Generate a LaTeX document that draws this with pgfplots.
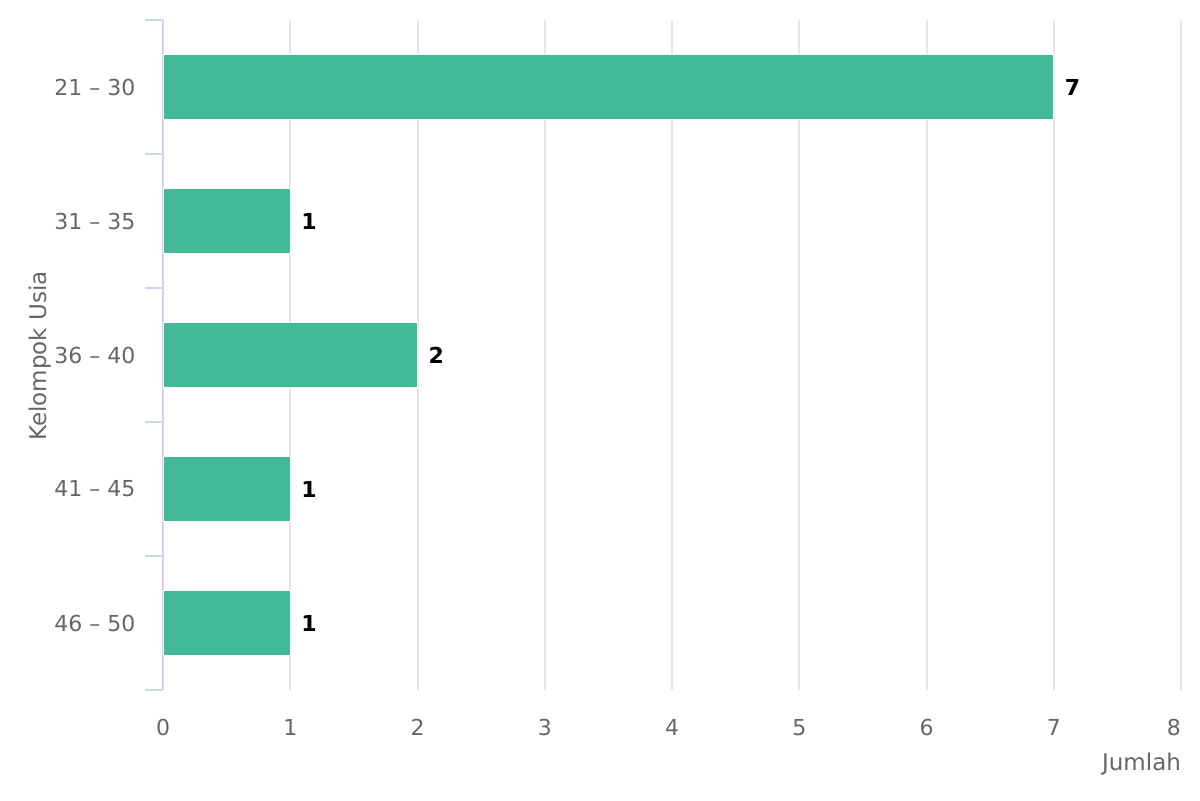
\documentclass[border=0pt]{standalone}
\usepackage{pgfplots}
\pgfplotsset{compat=1.18}
\usepackage{fontspec}
\setmainfont{DejaVu Sans}
\definecolor{barcol}{HTML}{42BA96}
\definecolor{gridcol}{HTML}{E6E6E6}
\definecolor{axcol}{HTML}{CCD6EB}
\definecolor{txtcol}{HTML}{666666}
\begin{document}
\begin{tikzpicture}
\useasboundingbox (0,0) rectangle (600pt,400pt);
\begin{axis}[
    at={(81.5pt,55pt)}, anchor=south west,
    scale only axis,
    width=509pt, height=335pt,
    xbar,
    xmin=0, xmax=8,
    ymin=-0.5, ymax=4.5,
    y dir=reverse,
    bar width=0.48,
    xtick={0,...,7},
    extra x ticks={8},
    extra x tick style={grid=major, xticklabel style={anchor=north east, xshift=3.5pt}},
    ytick={0,...,4},
    yticklabels={21 – 30,31 – 35,36 – 40,41 – 45,46 – 50},
    minor ytick={-0.5,0.5,...,4.5},
    axis x line*=bottom,
    axis y line*=left,
    x axis line style={draw=none},
    y axis line style={axcol, line width=1pt, -},
    xmajorgrids,
    grid style={gridcol, line width=1pt},
    major y tick style={draw=none},
    minor y tick style={axcol, line width=1pt},
    minor tick length=9pt,
    tick align=outside,
    x tick style={draw=none},
    ticklabel style={font=\fontsize{11}{13}\selectfont, text=txtcol},
    /pgf/number format/assume math mode=true,
    yticklabel style={anchor=east, xshift=-6pt},
    xticklabel style={anchor=north, yshift=-7pt},
    nodes near coords,
    every node near coord/.append style={font=\fontsize{11}{13}\bfseries, text=black, anchor=west, xshift=2pt},
]
\addplot[fill=barcol, draw=white, line width=0.5pt] coordinates {(7,0) (1,1) (2,2) (1,3) (1,4)};
\end{axis}
% axis titles
\node[anchor=base east, text=txtcol, font=\fontsize{11.5}{13}\selectfont] at (594pt,15pt) {Jumlah};
\node[rotate=90, text=txtcol, font=\fontsize{11.5}{13}\selectfont] at (20pt,222pt) {Kelompok Usia};
\end{tikzpicture}
\end{document}
